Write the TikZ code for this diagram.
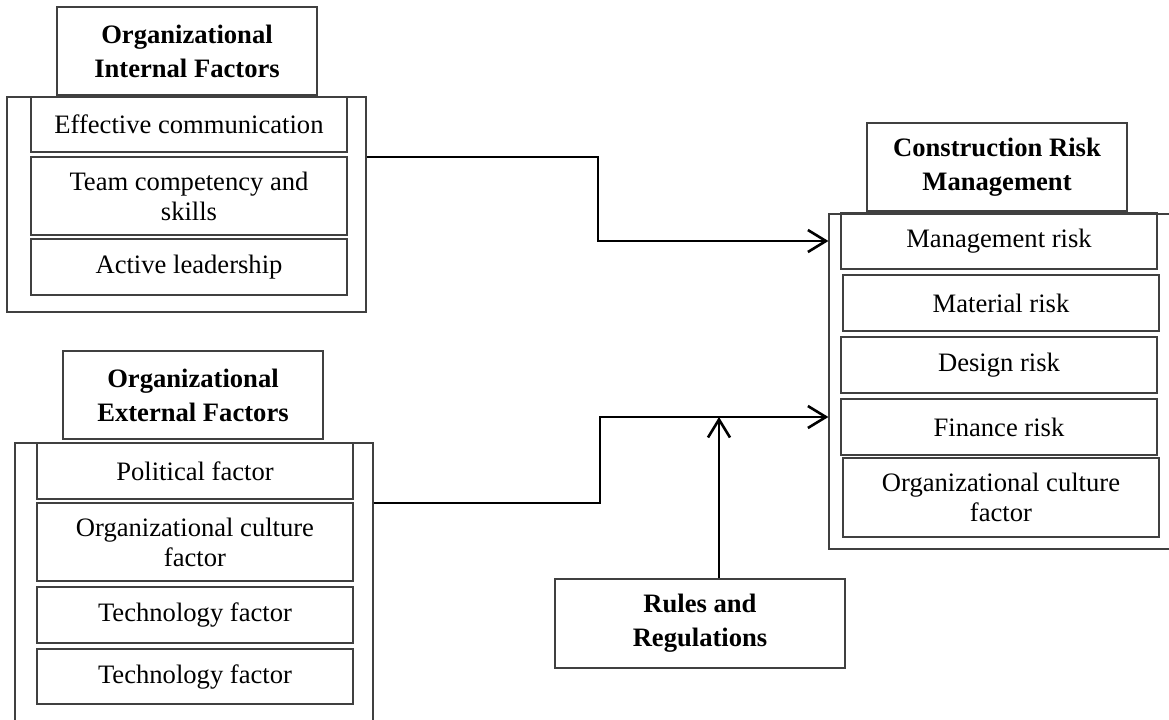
\documentclass[tikz,border=0pt]{standalone}
\usepackage{fontspec}
\setmainfont{Liberation Serif}
\usetikzlibrary{arrows.meta}

% \rbox{name}{x1}{y1}{x2}{y2}{style}{text}: a box given by two corners
\newcommand{\rbox}[7]{%
  \pgfmathsetmacro\rboxw{(#4-#2)*0.5}%
  \pgfmathsetmacro\rboxh{(#5-#3)*0.5}%
  \node[#6, minimum width=\rboxw pt, minimum height=\rboxh pt]
    (#1) at ({(#2+#4)/2},{(#3+#5)/2}) {#7};%
}

\tikzset{
  frame/.style={draw=black!75, line width=0.6pt, inner sep=0pt},
  itembox/.style={draw=black!75, line width=0.6pt, inner sep=0pt, align=center,
    font=\fontsize{13.3}{15}\selectfont},
  titlebox/.style={draw=black!75, line width=0.6pt, inner sep=0pt, align=center,
    font=\fontsize{13.3}{17}\selectfont\bfseries},
  link/.style={draw=black, line width=1.3pt},
  linkarrow/.style={link, -{Straight Barb[length=9pt,width=11pt,line width=1.3pt]}}
}

\begin{document}
\begin{tikzpicture}[x=0.5pt,y=-0.5pt]
\useasboundingbox (0,0) rectangle (1169,719);
\fill[white] (0,0) rectangle (1169,719);

% Organizational internal factors
\rbox{intOuter}{7}{97}{366}{312}{frame}{}
\rbox{intTitle}{57}{7}{317}{95}{titlebox}{Organizational\\Internal Factors}
\rbox{effComm}{31}{97}{347}{152}{itembox}{Effective communication}
\rbox{teamSkill}{31}{157}{347}{235}{itembox}{Team competency and\\skills}
\rbox{leader}{31}{239}{347}{295}{itembox}{Active leadership}

% Organizational external factors
\rbox{extOuter}{15}{443}{373}{770}{frame}{}
\rbox{extTitle}{63}{351}{323}{439}{titlebox}{Organizational\\External Factors}
\rbox{political}{37}{443}{353}{499}{itembox}{Political factor}
\rbox{extCulture}{37}{503}{353}{581}{itembox}{Organizational culture\\factor}
\rbox{techA}{37}{587}{353}{643}{itembox}{Technology factor}
\rbox{techB}{37}{649}{353}{704}{itembox}{Technology factor}

% Construction risk management
\rbox{crmOuter}{829}{214}{1200}{549}{frame}{}
\rbox{crmTitle}{867}{123}{1127}{211}{titlebox}{Construction Risk\\Management}
\rbox{mgmtRisk}{841}{213}{1157}{269}{itembox}{Management risk}
\rbox{materialRisk}{843}{275}{1159}{331}{itembox}{Material risk}
\rbox{designRisk}{841}{337}{1157}{393}{itembox}{Design risk}
\rbox{financeRisk}{841}{399}{1157}{455}{itembox}{Finance risk}
\rbox{crmCulture}{843}{458}{1159}{537}{itembox}{Organizational culture\\factor}

% Moderator
\rbox{rules}{555}{579}{845}{668}{titlebox}{Rules and\\Regulations}

% Reference heights and junction points of the connectors
\coordinate (rowA) at (0,157);
\coordinate (rowB) at (0,503);
\coordinate (rowC) at (0,417);
\coordinate (junction) at (719,417);

% Internal factors -> management risk
\draw[linkarrow] (intOuter.east |- rowA) -- (598,157) -- (598,241)
  -- (mgmtRisk -| crmOuter.west);

% External factors -> risk management (through the moderator junction)
\draw[linkarrow] (extOuter.east |- rowB) -- (600,503) -- (600,417)
  -- (crmOuter.west |- rowC);

% Rules and regulations -> junction
\draw[linkarrow] (rules.north -| junction) -- (junction);
\end{tikzpicture}
\end{document}
